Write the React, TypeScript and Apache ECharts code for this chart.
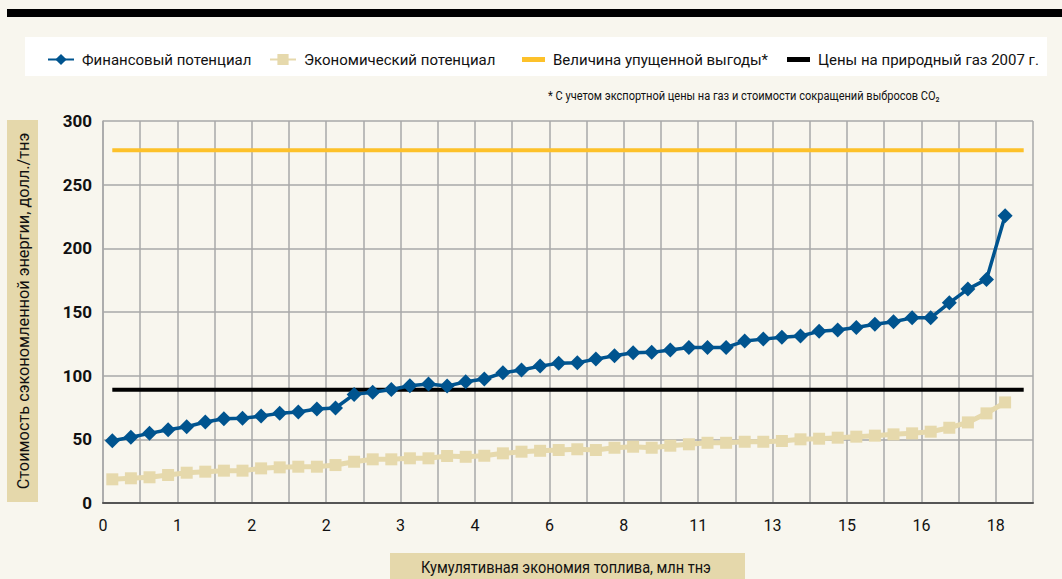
import React, { useEffect, useRef } from "react";
import * as echarts from "echarts";

const xTickLabels = ["0", "1", "2", "2", "3", "4", "6", "8", "11", "13", "15", "16", "18"];

const financialPotential = [
  48.9, 51.6, 54.7, 57.5, 59.9, 63.6, 66.2, 66.5, 68.3, 70.4, 71.4, 73.8, 74.6,
  85.3, 86.9, 89.2, 92.1, 93.4, 91.8, 95.2, 97.3, 102.3, 104.4, 107.5, 109.7, 110.2,
  113, 115.6, 118, 118.3, 120.1, 122.2, 122.2, 122.2, 127.2, 128.7, 130.1, 131.1, 134.8,
  135.8, 137.9, 140.3, 142.3, 145.4, 145.4, 157.2, 168, 175.6, 225.5,
];

const economicPotential = [
  18.6, 19.4, 20.2, 22, 23.8, 24.6, 25.4, 25.4, 27.2, 28, 28.5, 28.5, 29.8,
  32.4, 34.3, 34.3, 35.1, 35.1, 36.9, 36.3, 37.1, 39, 40.3, 41, 41.6, 42.2,
  41.6, 43.4, 44.2, 43.4, 45, 46.1, 47.3, 47.3, 48.1, 48.1, 48.7, 50, 50.5,
  51.3, 52.1, 52.9, 53.9, 54.7, 56, 59.1, 63.3, 70.4, 79,
];

const lostBenefit = [277, 277];
const gasPrice2007 = [89, 89];
const lineSpan = [0, 49]; // first and last category index

const seriesNames = [
  "Финансовый потенциал",
  "Экономический потенциал",
  "Величина упущенной выгоды*",
  "Цены на природный газ 2007 г.",
];

const FONT = "Roboto, 'Liberation Sans', sans-serif";

export default function App() {
  const ref = useRef<HTMLDivElement>(null);
  useEffect(() => {
    if (!ref.current) return;
    const chart = echarts.init(ref.current, null, { renderer: "svg" });
    const toPts = (arr: number[]) => arr.map((v, i) => [i + 0.5, v]);
    const spanPts = (arr: number[]) => arr.map((v, i) => [lineSpan[i] + 0.5, v]);
    const legendLefts = [42, 264, 517, 782];
    const legendText = { fontFamily: FONT, fontSize: 15, color: "#111", padding: [0, 0, 0, 3] };
    chart.setOption({
      animation: false,
      backgroundColor: "#F8F6EE",
      textStyle: { fontFamily: FONT },
      graphic: [
        { type: "rect", z: 0, shape: { x: 7, y: 9, width: 1062, height: 8 }, style: { fill: "#000" } },
        { type: "rect", z: 0, shape: { x: 25, y: 37, width: 1022, height: 39 }, style: { fill: "#FFFFFF" } },
        {
          type: "text", z: 5, x: 548, y: 89, scaleX: 0.85,
          style: { text: "* С учетом экспортной цены на газ и стоимости сокращений выбросов CO₂", fontFamily: FONT, fontSize: 13, fill: "#111" },
        },
        { type: "rect", z: 0, shape: { x: 7, y: 120, width: 31, height: 382 }, style: { fill: "#E5D8AB" } },
        {
          type: "text", z: 5, x: 23, y: 311, rotation: Math.PI / 2,
          style: { text: "Стоимость сэкономленной энергии, долл./тнэ", fontFamily: FONT, fontSize: 16.3, fill: "#111", align: "center", verticalAlign: "middle" },
        },
        { type: "rect", z: 0, shape: { x: 390, y: 553, width: 355, height: 30 }, style: { fill: "#E5D8AB" } },
        {
          type: "text", z: 5, x: 566, y: 568, scaleX: 0.91,
          style: { text: "Кумулятивная экономия топлива, млн тнэ", fontFamily: FONT, fontSize: 16, fill: "#111", align: "center", verticalAlign: "middle" },
        },
      ],
      legend: seriesNames.map((name, i) => ({
        data: i < 2 ? [name] : [{ name, icon: "rect" }],
        left: legendLefts[i],
        top: 47,
        itemWidth: i < 2 ? 26 : 23,
        itemHeight: i < 2 ? 14 : 5,
        textStyle: legendText,
        z: 10,
      })),
      grid: { left: 103, right: 29, top: 121, bottom: 76, containLabel: false },
      xAxis: {
        type: "value",
        min: 0,
        max: 50,
        interval: 2,
        axisLine: { show: true, onZero: false, lineStyle: { color: "#555", width: 2 } },
        axisTick: { show: false },
        splitLine: { show: true, lineStyle: { color: "#A8A8A8", width: 1.5 } },
        axisLabel: {
          formatter: (v: number) => (v % 4 === 0 ? xTickLabels[v / 4] ?? "" : ""),
          fontFamily: FONT,
          fontSize: 16,
          color: "#111",
          margin: 14,
          showMaxLabel: true,
        },
      },
      yAxis: {
        type: "value",
        min: 0,
        max: 300,
        interval: 50,
        axisLine: { show: true, lineStyle: { color: "#A8A8A8", width: 1.5 } },
        axisTick: { show: false },
        splitLine: { show: true, lineStyle: { color: "#A8A8A8", width: 1.5 } },
        axisLabel: { fontFamily: FONT, fontSize: 17, fontWeight: "bold", color: "#111", margin: 11 },
      },
      series: [
        {
          name: seriesNames[2],
          type: "line",
          data: spanPts(lostBenefit),
          symbol: "none",
          lineStyle: { color: "#FDC12A", width: 4 },
          itemStyle: { color: "#FDC12A" },
          z: 2,
        },
        {
          name: seriesNames[3],
          type: "line",
          data: spanPts(gasPrice2007),
          symbol: "none",
          lineStyle: { color: "#000", width: 4 },
          itemStyle: { color: "#000" },
          z: 2,
        },
        {
          name: seriesNames[1],
          type: "line",
          data: toPts(economicPotential),
          symbol: "rect",
          symbolSize: 12,
          lineStyle: { color: "#E6D9AC", width: 5 },
          itemStyle: { color: "#E6D9AC" },
          z: 3,
        },
        {
          name: seriesNames[0],
          type: "line",
          data: toPts(financialPotential),
          symbol: "diamond",
          symbolSize: 15,
          lineStyle: { color: "#00548F", width: 3.5 },
          itemStyle: { color: "#00548F" },
          z: 4,
        },
      ],
    });
    return () => chart.dispose();
  }, []);
  return <div ref={ref} style={{ position: "fixed", left: 0, top: 0, width: 1062, height: 579 }} />;
}
